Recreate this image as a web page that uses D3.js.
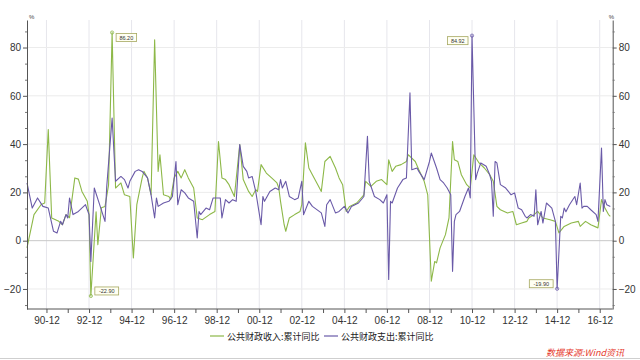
<!DOCTYPE html>
<html><head><meta charset="utf-8">
<script src="https://cdn.jsdelivr.net/npm/d3@7/dist/d3.min.js"></script>
<style>body{margin:0;background:#fff}svg{display:block}</style>
</head><body><svg id="c" width="640" height="360"></svg>
<script>
const seriesNames = ["公共财政收入:累计同比", "公共财政支出:累计同比"];
const revDates = ["1990-01","1990-05","1990-09","1990-11","1991-01","1991-03","1991-07","1991-09","1991-11","1992-01","1992-04","1992-06","1992-08","1992-11","1992-12","1993-01","1993-04","1993-05","1993-07","1993-09","1993-11","1994-01","1994-03","1994-06","1994-08","1994-11","1995-01","1995-03","1995-06","1995-07","1995-09","1995-11","1996-01","1996-03","1996-04","1996-06","1996-09","1996-10","1996-12","1997-02","1997-04","1997-06","1997-08","1997-11","1998-01","1998-04","1998-08","1998-11","1999-01","1999-03","1999-05","1999-07","1999-10","2000-01","2000-03","2000-06","2000-08","2000-10","2000-11","2001-01","2001-04","2001-07","2001-10","2001-11","2001-12","2002-02","2002-03","2002-05","2002-08","2002-11","2002-12","2003-02","2003-04","2003-06","2003-09","2003-11","2004-01","2004-04","2004-07","2004-09","2004-11","2005-01","2005-03","2005-07","2005-11","2005-12","2006-03","2006-06","2006-09","2006-12","2007-01","2007-03","2007-05","2007-08","2007-11","2007-12","2008-04","2008-06","2008-09","2008-11","2009-01","2009-03","2009-04","2009-06","2009-09","2009-11","2010-01","2010-02","2010-04","2010-06","2010-09","2010-11","2011-01","2011-04","2011-07","2011-10","2011-12","2012-02","2012-04","2012-08","2012-11","2013-01","2013-04","2013-07","2013-08","2013-11","2014-01","2014-04","2014-08","2014-11","2015-01","2015-04","2015-08","2015-12","2016-01","2016-04","2016-07","2016-11","2017-01","2017-03","2017-05","2017-06"];
const revValues = [-3,10.8,15,15.6,46,9.4,8,6.6,10.8,9.5,26,25.5,20.4,16.3,10.8,-22.9,12,-1.7,13.6,14.2,23,86.2,21.8,23.9,19,18.3,-7.2,14.9,26,28.7,26,19,83.2,28.7,35.6,19,18.3,17,26,28.7,26,29.4,26,21.8,9.4,8.7,10.8,12.1,41.1,26,25.3,23.2,18.3,39.8,25.3,20.4,18.3,21.1,20.4,31.5,28,26,23.9,21.8,16.3,6.6,3.9,9.4,10.8,12.1,14.9,40.5,30.1,27.3,23.2,20.4,32.8,34.9,30.1,26,23.2,12.1,14.2,15.6,19,24.6,22.5,24.6,25.3,23.2,33.5,28.7,30.8,31.5,32.8,35.6,32.8,29.4,24.6,19,-16.8,-8.6,-9.2,-3,2.5,9.4,41.1,33.5,32.8,27.3,23.2,21.8,35.6,32.2,30.1,27.3,24.6,14.2,12.8,11.5,12.1,6.6,7.3,8,9.4,10.8,12.1,9.4,8.7,8,3.2,5.9,7.3,8,5.9,8,6.6,5.3,17,13.5,10.8,10.1];
const expDates = ["1990-01","1990-04","1990-07","1990-10","1991-01","1991-04","1991-06","1991-08","1991-09","1991-11","1991-12","1992-01","1992-03","1992-06","1992-10","1992-12","1993-01","1993-03","1993-06","1993-09","1993-10","1994-01","1994-03","1994-06","1994-08","1994-10","1994-11","1995-02","1995-04","1995-06","1995-09","1995-11","1996-01","1996-02","1996-03","1996-06","1996-09","1996-11","1997-01","1997-02","1997-04","1997-06","1997-08","1997-11","1998-01","1998-02","1998-03","1998-06","1998-08","1998-10","1999-02","1999-03","1999-05","1999-07","1999-09","1999-11","2000-01","2000-03","2000-05","2000-06","2000-08","2000-10","2001-01","2001-02","2001-03","2001-06","2001-09","2001-11","2001-12","2002-01","2002-03","2002-05","2002-08","2002-10","2002-12","2003-01","2003-04","2003-06","2003-11","2004-01","2004-02","2004-04","2004-07","2004-09","2004-12","2005-02","2005-04","2005-08","2005-11","2006-01","2006-02","2006-05","2006-08","2006-10","2006-12","2007-01","2007-02","2007-03","2007-06","2007-09","2007-11","2008-01","2008-02","2008-05","2008-06","2008-09","2008-12","2009-01","2009-04","2009-06","2009-08","2009-10","2009-12","2010-01","2010-02","2010-03","2010-05","2010-08","2010-10","2010-11","2010-12","2011-02","2011-03","2011-05","2011-08","2011-10","2011-11","2011-12","2012-01","2012-02","2012-04","2012-07","2012-10","2012-12","2013-02","2013-04","2013-06","2013-07","2013-09","2013-11","2013-12","2014-01","2014-03","2014-04","2014-06","2014-09","2014-10","2014-11","2014-12","2015-02","2015-03","2015-04","2015-05","2015-07","2015-10","2015-11","2016-01","2016-02","2016-03","2016-05","2016-07","2016-10","2016-11","2017-01","2017-02","2017-03","2017-04","2017-06"];
const expValues = [23.9,13.5,17.7,14.2,13.5,3.9,3.2,8,6.6,10.8,9.4,17.7,10.8,12.1,14.9,10.8,-8.6,21.8,14.9,8,22.5,50.8,24.6,26.6,25.3,21.8,24.6,28.7,29.4,28.7,26,19,9.4,17.7,14.2,15.6,16.3,18.3,32.8,14.9,21.1,19.8,17.7,16.3,1.1,12.1,10.8,13.5,12.8,17.7,17.7,9.4,17,15.6,17,16.3,39.8,30.8,28.7,26,26.6,20.4,6.6,18.3,16.3,20.4,21.8,21.1,25.3,21.8,24.6,18.3,17,17.7,24.6,10.8,16.3,14.2,11.5,5.9,14.9,17,11.5,12.1,14.2,11.5,14.2,15.6,18.3,43.2,24.6,18.3,17,15.6,19,-16.1,16.3,15.6,21.8,25.3,26,61.2,29.4,30.1,28.7,25.3,32.8,36.3,30.1,25.3,23.9,21.8,19,-12.7,8,10.8,12.1,18.3,21.8,17.7,84.92,25.3,28,32.2,30.8,27.3,24.6,10.1,32.8,32.2,23.2,21.8,19,19.8,13.5,12.8,10.1,9.4,10.8,10.1,21.1,6.6,12.1,7.3,15.6,13.5,10.8,8,-19.9,10.1,9.4,13.5,12,14.9,18.3,14.9,23.9,13.5,14.2,14.2,12.8,10.8,8,38.4,12.1,17,14.9,14.2];
const annoSeries = [0, 0, 1, 1];
const annoDates = ["1994-01", "1993-01", "2010-12", "2014-12"];
const annoValues = [86.2, -22.9, 84.92, -19.9];
const annoLabels = ["86.20", "-22.90", "84.92", "-19.90"];
const annoSide = ["right", "right", "left", "left"];
const yMajorTicks = [-20, 0, 20, 40, 60, 80];
const sourceText = "数据来源:Wind资讯";

const colors = ["#8db848", "#6a5aa8"];
const parse = d3.timeParse("%Y-%m");
const svg = d3.select("#c");
const L = 27, R = 612.7, T = 20, B = 309;

const x = d3.scaleTime().domain([new Date(1990,0,1), new Date(2017,6,12)]).range([L, R]);
const y = d3.scaleLinear().domain([-28.3, 91.4]).range([B, T]);

// gridlines
const yearTicks = d3.range(1990, 2017).map(yr => new Date(yr, 11, 1));
const labelTicks = yearTicks.filter(d => d.getFullYear() % 2 === 0);
svg.append("g").selectAll("line").data(labelTicks).join("line")
  .attr("x1", d => x(d)).attr("x2", d => x(d)).attr("y1", T).attr("y2", B)
  .attr("stroke", "#e6e6ec").attr("stroke-width", 1);
svg.append("g").selectAll("line").data(yMajorTicks).join("line")
  .attr("x1", L).attr("x2", R).attr("y1", d => y(d)).attr("y2", d => y(d))
  .attr("stroke", d => d === 0 ? "#c8c8c8" : "#ececec").attr("stroke-width", 1);

// lines
const line = d3.line().x(d => x(d.date)).y(d => y(d.v));
const series = [
  revDates.map((d, i) => ({date: parse(d), v: revValues[i]})),
  expDates.map((d, i) => ({date: parse(d), v: expValues[i]}))
];
series.forEach((s, i) => {
  svg.append("path").datum(s).attr("d", line).attr("fill", "none")
    .attr("stroke", colors[i]).attr("stroke-width", 1.1).attr("stroke-linejoin", "round");
});

// axes
const minor = d3.range(-80, 93, 20 / 3).filter(v => v >= -28.3 && v <= 91.4 && Math.abs(v / 20 - Math.round(v / 20)) > 0.01);
function styleAxis(g) {
  g.select(".domain").attr("stroke", "#555");
  g.selectAll(".tick line").attr("stroke", "#555");
  g.selectAll("text").attr("fill", "#333").style("font-family", "Liberation Sans, Arial, sans-serif").style("font-size", "10px");
}
const yl = svg.append("g").attr("transform", `translate(${L},0)`)
  .call(d3.axisLeft(y).tickValues(yMajorTicks).tickSize(4).tickSizeOuter(0).tickPadding(2));
styleAxis(yl);
svg.append("g").attr("transform", `translate(${L},0)`)
  .call(d3.axisLeft(y).tickValues(minor).tickSize(2).tickFormat("").tickSizeOuter(0))
  .call(g => { g.select(".domain").remove(); g.selectAll("line").attr("stroke", "#777"); });
const yr = svg.append("g").attr("transform", `translate(${R},0)`)
  .call(d3.axisRight(y).tickValues(yMajorTicks).tickSize(4).tickSizeOuter(0).tickPadding(2));
styleAxis(yr);
svg.append("g").attr("transform", `translate(${R},0)`)
  .call(d3.axisRight(y).tickValues(minor).tickSize(2).tickFormat("").tickSizeOuter(0))
  .call(g => { g.select(".domain").remove(); g.selectAll("line").attr("stroke", "#777"); });
const fmt = d3.timeFormat("%y-%m");
const xa = svg.append("g").attr("transform", `translate(0,${B})`)
  .call(d3.axisBottom(x).tickValues(yearTicks).tickSize(4).tickSizeOuter(0).tickPadding(4)
    .tickFormat(d => d.getFullYear() % 2 === 0 ? fmt(d) : ""));
styleAxis(xa);
xa.select(".domain").attr("d", `M${L},0H${R}`);

// % unit labels
[[L + 2, 19], [R - 4, 19]].forEach(p => {
  svg.append("text").attr("x", p[0]).attr("y", p[1]).text("%")
    .style("font-family", "Liberation Sans, Arial, sans-serif").style("font-size", "6px").attr("fill", "#444");
});

// annotations
annoDates.forEach((d, i) => {
  const px = x(parse(d)), py = y(annoValues[i]);
  const col = colors[annoSeries[i]];
  svg.append("circle").attr("cx", px).attr("cy", py).attr("r", 1.6).attr("fill", "none").attr("stroke", col).attr("stroke-width", 0.8);
  const w = annoLabels[i].length * 3.3 + 4, h = 8;
  const bx = annoSide[i] === "right" ? px + 4 : px - w - 4;
  const by = annoValues[i] > 0 ? py + 1 : py - h - 1;
  svg.append("rect").attr("x", bx).attr("y", by).attr("width", w).attr("height", h)
    .attr("fill", "#fffff2").attr("stroke", "#a6a860").attr("stroke-width", 0.8);
  svg.append("text").attr("x", bx + w / 2).attr("y", by + h - 2).attr("text-anchor", "middle")
    .text(annoLabels[i]).style("font-family", "Liberation Sans, Arial, sans-serif").style("font-size", "5.5px").attr("fill", "#333");
});

// legend
const legX = [210, 324];
seriesNames.forEach((n, i) => {
  svg.append("line").attr("x1", legX[i]).attr("x2", legX[i] + 14).attr("y1", 336).attr("y2", 336)
    .attr("stroke", colors[i]).attr("stroke-width", 1.2);
  svg.append("text").attr("x", legX[i] + 17).attr("y", 339.5).text(n)
    .style("font-family", "Noto Sans CJK SC, sans-serif").style("font-size", "9px").attr("fill", "#222");
});

// source
svg.append("text").attr("x", 624).attr("y", 356).attr("text-anchor", "end").text(sourceText)
  .style("font-family", "Noto Sans CJK SC, sans-serif").style("font-size", "9px").style("font-style", "italic").attr("fill", "#e63b2e");
svg.append("line").attr("x1", 0).attr("x2", 640).attr("y1", 358.5).attr("y2", 358.5).attr("stroke", "#cfcfcf");
</script></body></html>
